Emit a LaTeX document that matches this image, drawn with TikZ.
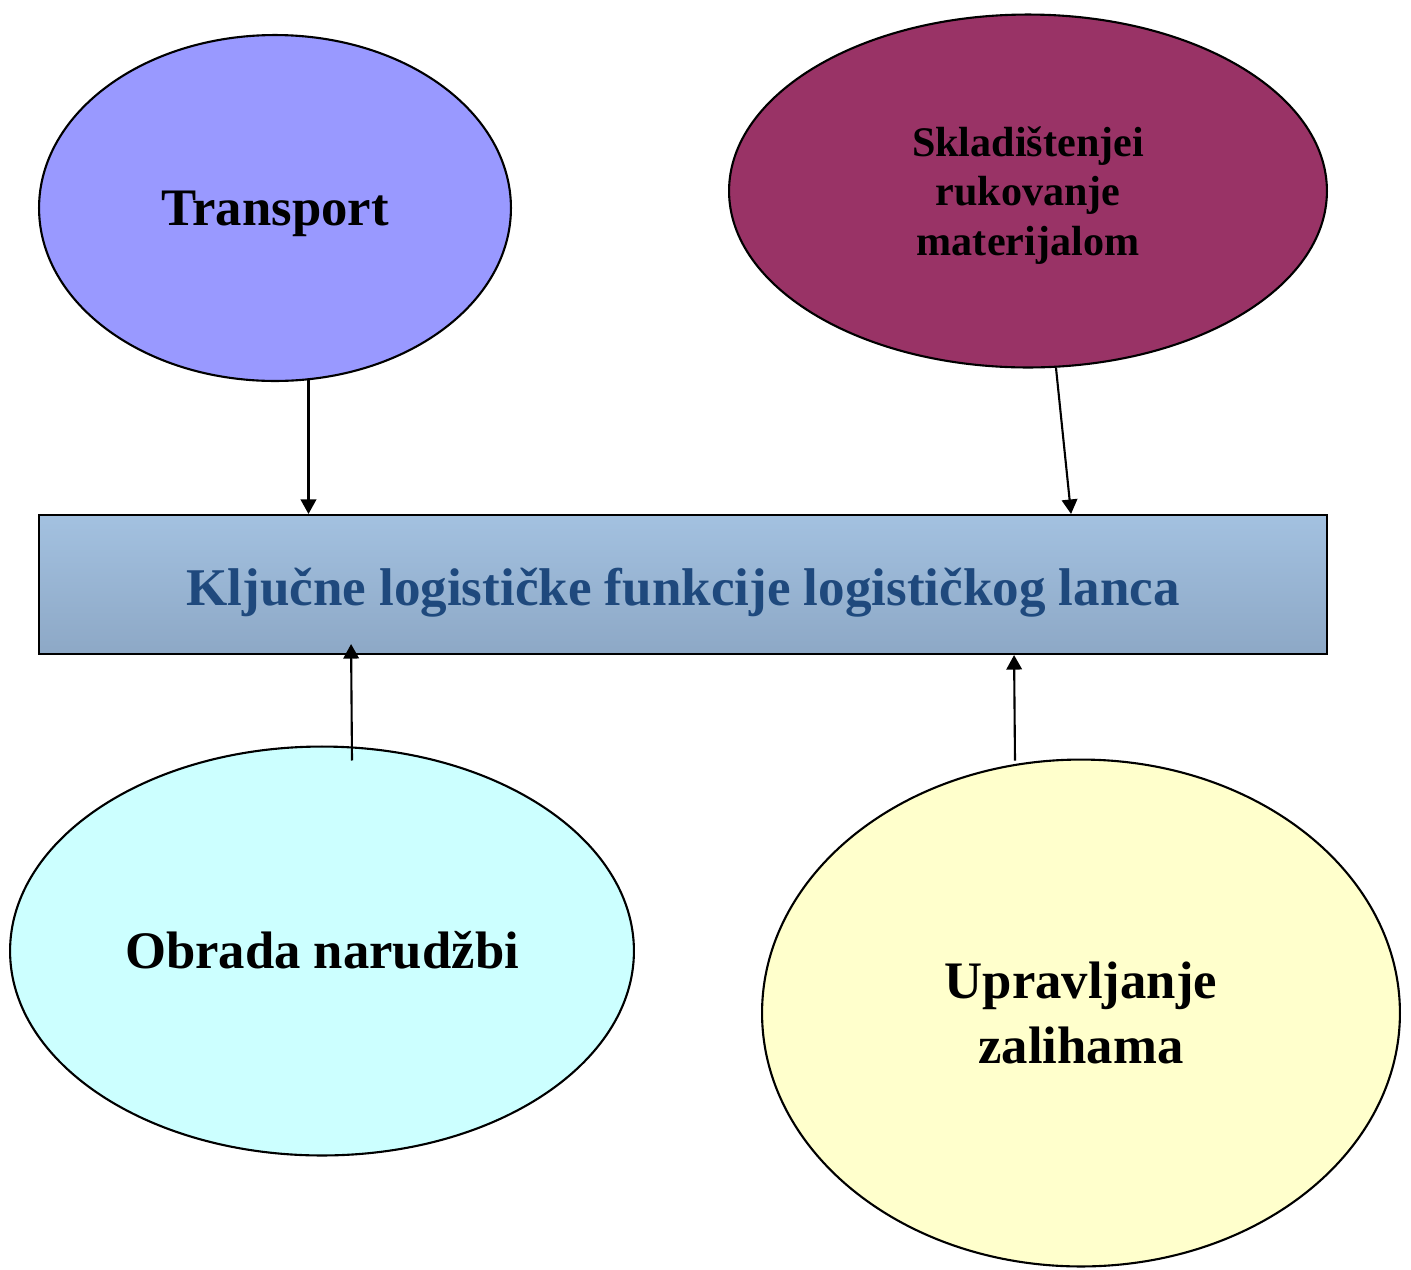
\documentclass[tikz,border=0pt]{standalone}
\usepackage{fontspec}
\setmainfont{Liberation Serif}
\usepackage{tikz}
\usetikzlibrary{positioning, calc, shapes.geometric, arrows.meta}
\definecolor{transportblue}{HTML}{9999FF}
\definecolor{skladred}{HTML}{993366}
\definecolor{obradacyan}{HTML}{CCFFFF}
\definecolor{zaliheyellow}{HTML}{FFFFCC}
\definecolor{boxtop}{HTML}{A3C1E0}
\definecolor{boxbottom}{HTML}{8DA8C6}
\definecolor{boxtext}{HTML}{1F497D}
\tikzstyle{Arrow} = [
    line width=1.2pt,
    -{Triangle[length=0.29cm, width=0.31cm]}
]

\begin{document}
\begin{tikzpicture}[
x=0.02cm, y=-0.02cm,
func/.style={
    ellipse,
    draw,
    line width=1.2pt,
    inner sep=0pt,
    align=center,
    text height=20pt,
    text depth=0pt,
    font=\bfseries\fontsize{30}{36.5}\selectfont
    },
box/.style={
    rectangle,
    draw,
    line width=1.2pt,
    top color=boxtop,
    bottom color=boxbottom,
    text=boxtext,
    minimum width=25.76cm,
    minimum height=2.78cm,
    text height=23.4pt,
    text depth=0pt,
    font=\bfseries\fontsize{30.2}{35}\selectfont
    }
]
\useasboundingbox (0,0) rectangle (1411,1269);

\node [func, fill=transportblue, minimum width=9.44cm, minimum height=6.92cm] (1) at (275,208) {Transport};
\node [func, fill=skladred, minimum width=11.96cm, minimum height=7.06cm, text height=,
    font=\bfseries\fontsize{24}{28}\selectfont] (2) at (1028,191) {Skladištenjei\\rukovanje\\materijalom};
\node [box] (3) at (683,584.5) {Ključne logističke funkcije logističkog lanca};
\node [func, fill=obradacyan, minimum width=12.48cm, minimum height=8.18cm] (4) at (322,951) {Obrada narudžbi};
\node [func, fill=zaliheyellow, minimum width=12.76cm, minimum height=10.14cm, text height=, text depth=] (5) at (1081,1013) {Upravljanje\\zalihama};

\draw[Arrow] (1.281) -- (1.281 |- 3.north);
\draw[Arrow] (2.279) -- ($(3.north west)+(1033,0)$);

\draw[Arrow] ($(4.north)+(30,15)$) -- ($(3.south west)+(313,-11)$);
\draw[Arrow] ($(5.north)+(-66,2)$) -- ($(3.south west)+(976,0)$);

\end{tikzpicture}
\end{document}
